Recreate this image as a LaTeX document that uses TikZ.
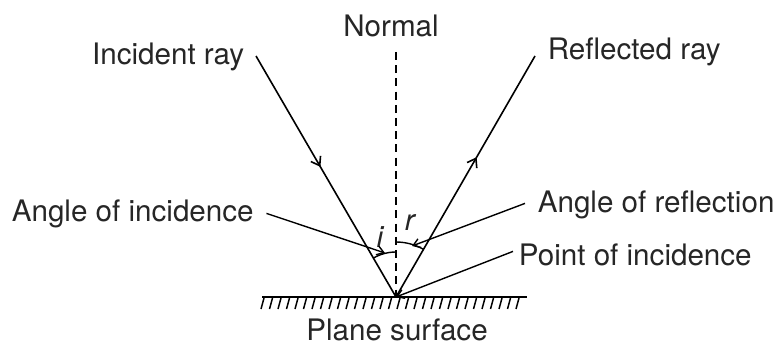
\documentclass[tikz,border=0pt]{standalone}
\usepackage{fontspec}
\setmainfont{TeX Gyre Heros}
\usetikzlibrary{arrows.meta,positioning,decorations.markings}

\begin{document}
\begin{tikzpicture}[
  x=0.5pt,y=0.5pt,
  >={Straight Barb[length=3.4pt,width=4.6pt]},
  line width=0.8pt,
  lbl/.style={font=\fontsize{14.8}{18}\selectfont,inner sep=0pt,text=black!85},
  sym/.style={lbl,font=\fontsize{14.8}{18}\selectfont\itshape},
  ray/.style={postaction={decorate},decoration={markings,
    mark=at position #1 with {\arrow{Straight Barb[length=4pt,width=5.6pt]}}}},
  leader/.style={->,line width=0.7pt},
  normal/.style={dash pattern=on 4pt off 2.6pt,line width=0.75pt}
]
  \useasboundingbox (0,0) rectangle (780,-347);

  % mirror, normal and point of incidence
  \coordinate (O) at (396,-297);
  \coordinate (ntop) at (396,-52);
  \coordinate (sleft) at (262,-297);
  \coordinate (sright) at (527,-297);
  \coordinate (istart) at (256,-56);
  \coordinate (rend) at (535,-56);

  \draw (sleft) -- (sright);
  \foreach \x in {264,272.5,...,527}
    \draw[line width=0.75pt] (\x,-298) -- (\x-3,-309);
  \draw[normal] (ntop) -- (O);

  % rays
  \draw[ray=0.46] (istart) -- (O);
  \draw[ray=0.58] (O) -- (rend);

  % angles
  \draw[line width=0.7pt] (O) ++(90:45) arc[start angle=90,end angle=120.3,radius=45];
  \draw[line width=0.7pt] (O) ++(90:55) arc[start angle=90,end angle=59.8,radius=55];
  \node[sym,anchor=base] (iang) at (380,-247) {i};
  \node[sym,anchor=base west] (rang) at (404,-230) {r};

  % labels
  \node[lbl,anchor=base] (normallbl) at (391,-37) {Normal};
  \node[lbl,anchor=base east] (inclbl) at (245,-65) {Incident ray};
  \node[lbl,anchor=base west] (refllbl) at (547,-60) {Reflected ray};
  \node[lbl,anchor=base west] (angilbl) at (11,-221) {Angle of incidence};
  \node[lbl,anchor=base west] (anglbl) at (537,-213) {Angle of reflection};
  \node[lbl,anchor=base west] (pointlbl) at (518,-265) {Point of incidence};
  \node[lbl,anchor=base] (planelbl) at (397,-340) {Plane surface};

  % leaders
  \coordinate (itip) at (385,-253);
  \coordinate (rtip) at (412,-246);
  \draw[leader] (angilbl.east) ++(12,0) coordinate (ifoot) -- (itip);
  \draw[leader] (anglbl.west) ++(-12,2) coordinate (rfoot) -- (rtip);
  \draw[leader] (pointlbl.west) ++(-5,3) coordinate (pfoot) -- (O);
\end{tikzpicture}
\end{document}
